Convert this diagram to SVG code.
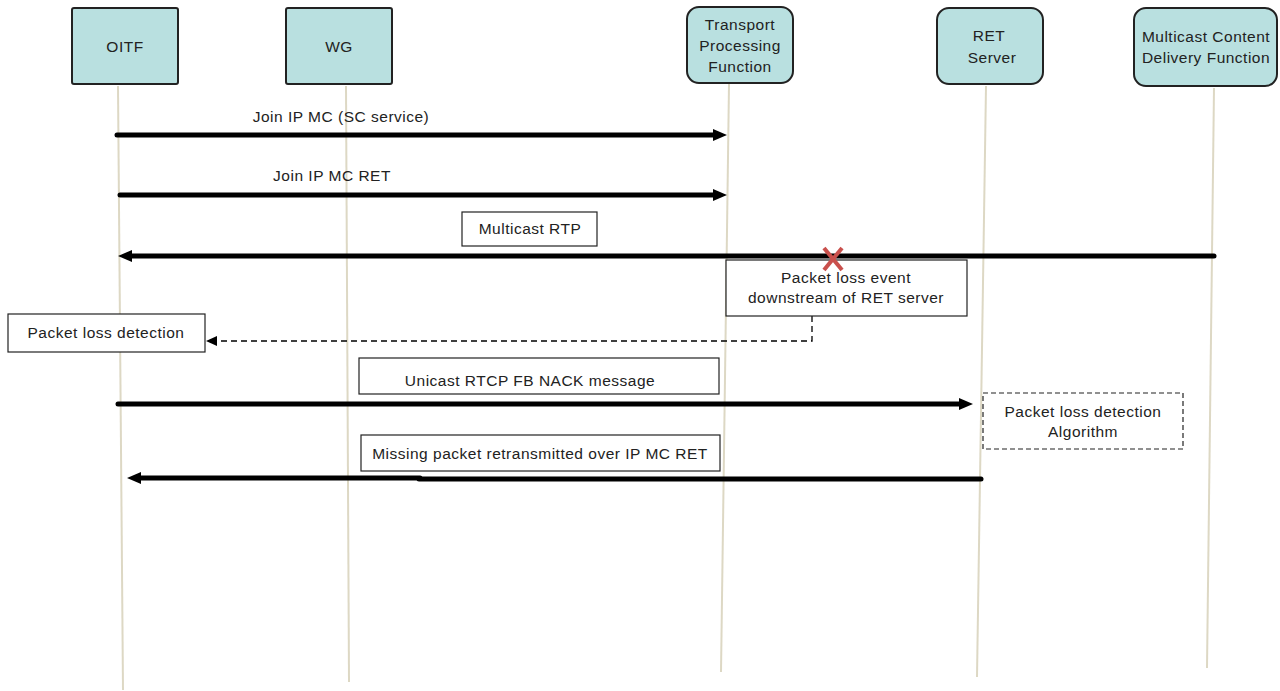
<svg xmlns="http://www.w3.org/2000/svg" width="1280" height="691" viewBox="0 0 1280 691">
<defs>
<style>
.bg{fill:#ffffff}
.life{stroke:#ddd8c4;stroke-width:2;fill:none}
.actor{fill:#b9e0e0;stroke:#222222;stroke-width:2}
.note{fill:#ffffff;stroke:#222222;stroke-width:1.2}
.dnote{fill:#ffffff;stroke:#222222;stroke-width:1.2;stroke-dasharray:5,3}
.msg{stroke:#000000;stroke-width:5;fill:none;stroke-linecap:round}
.dash{stroke:#000000;stroke-width:1.3;fill:none;stroke-dasharray:6,4}
text{font-family:"Liberation Sans",Arial,sans-serif;font-size:15.5px;fill:#222222;letter-spacing:0.5px}
.c{text-anchor:middle}
.x{stroke:#c9504c;stroke-width:4;stroke-linecap:butt}
</style>
<marker id="ah" markerUnits="userSpaceOnUse" markerWidth="16" markerHeight="14" refX="4" refY="6" orient="auto">
<path d="M0,0 L14,6 L0,12 z" fill="#000000"/>
</marker>
<marker id="ahs" markerUnits="userSpaceOnUse" markerWidth="12" markerHeight="12" refX="1" refY="5" orient="auto">
<path d="M0,0 L11,5 L0,10 z" fill="#000000"/>
</marker>
</defs>
<rect class="bg" x="0" y="0" width="1280" height="691"/>

<g id="lifelines">
<line class="life" x1="118" y1="86" x2="123" y2="690"/>
<line class="life" x1="346" y1="86" x2="349" y2="682"/>
<line class="life" x1="729" y1="84" x2="721" y2="672"/>
<line class="life" x1="986" y1="86" x2="977" y2="677"/>
<line class="life" x1="1214" y1="88" x2="1207" y2="668"/>
</g>

<g id="node-oitf">
<rect class="actor" x="72" y="8" width="106" height="76" rx="2"/>
<text class="c" x="125" y="52">OITF</text>
</g>
<g id="node-wg">
<rect class="actor" x="286" y="8" width="106" height="76" rx="2"/>
<text class="c" x="339" y="52">WG</text>
</g>
<g id="node-tpf">
<rect class="actor" x="687" y="7" width="106" height="76" rx="12"/>
<text class="c" x="740" y="30">Transport</text>
<text class="c" x="740" y="51">Processing</text>
<text class="c" x="740" y="72">Function</text>
</g>
<g id="node-ret">
<rect class="actor" x="937" y="8" width="106" height="76" rx="12"/>
<text class="c" x="989" y="41">RET</text>
<text class="c" x="992" y="63">Server</text>
</g>
<g id="node-mcdf">
<rect class="actor" x="1134" y="8" width="143" height="78" rx="12"/>
<text class="c" x="1206" y="42">Multicast Content</text>
<text class="c" x="1206" y="63">Delivery Function</text>
</g>

<g id="connectors">
<line class="msg" x1="117" y1="135" x2="717" y2="135" marker-end="url(#ah)"/>
<line class="msg" x1="120" y1="195" x2="717" y2="195" marker-end="url(#ah)"/>
<line class="msg" x1="1214" y1="256" x2="128" y2="256" marker-end="url(#ah)"/>
<polyline class="dash" points="812,316 812,341 216,341" marker-end="url(#ahs)"/>
<line class="msg" x1="118" y1="404" x2="963" y2="404" marker-end="url(#ah)"/>
<line class="msg" x1="981" y1="479" x2="419" y2="479"/>
<line class="msg" x1="420" y1="478" x2="137" y2="478" marker-end="url(#ah)"/>
</g>

<g id="labels">
<text class="c" x="341" y="122">Join IP MC (SC service)</text>
<text class="c" x="332" y="181">Join IP MC RET</text>
</g>

<g id="note-multicast-rtp">
<rect class="note" x="462" y="212" width="135" height="34"/>
<text class="c" x="530" y="234">Multicast RTP</text>
</g>

<g id="note-loss-event">
<rect class="note" x="726" y="260" width="241" height="56"/>
<text class="c" x="846" y="283">Packet loss event</text>
<text class="c" x="846" y="303">downstream of RET server</text>
</g>

<g id="loss-mark">
<line class="x" x1="824" y1="248" x2="842" y2="270"/>
<line class="x" x1="842" y1="248" x2="824" y2="270"/>
</g>

<g id="note-loss-detection">
<rect class="note" x="8" y="314" width="197" height="38"/>
<text class="c" x="106" y="338">Packet loss detection</text>
</g>

<g id="note-nack">
<rect class="note" x="359" y="358" width="360" height="36"/>
<text class="c" x="530" y="386">Unicast RTCP FB NACK message</text>
</g>

<g id="note-missing">
<rect class="note" x="361" y="435" width="359" height="36"/>
<text class="c" x="540" y="459">Missing packet retransmitted over IP MC RET</text>
</g>

<g id="note-algorithm">
<rect class="dnote" x="983" y="393" width="200" height="56"/>
<text class="c" x="1083" y="417">Packet loss detection</text>
<text class="c" x="1083" y="437">Algorithm</text>
</g>
</svg>
